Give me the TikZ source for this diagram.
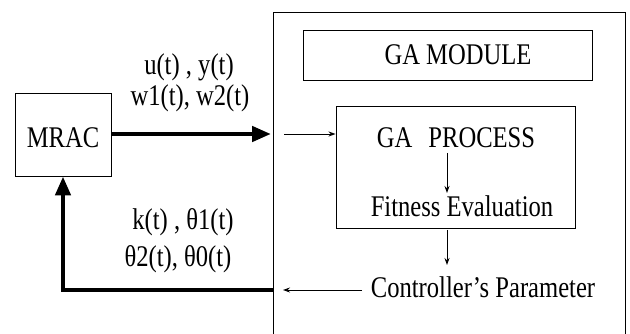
\documentclass[tikz,border=0pt]{standalone}
\usepackage{fontspec}
\setmainfont[FakeStretch=0.82]{Liberation Serif}
\usetikzlibrary{arrows.meta}
\begin{document}
\begin{tikzpicture}[x=1pt,y=-1pt,
  box/.style={draw,line width=0.9pt,inner sep=0pt},
  txt/.style={inner sep=0pt,anchor=base,font=\fontsize{30}{33}\selectfont},
  thick arrow/.style={line width=4.5pt,-{Triangle[length=19pt,width=15pt]}},
  thin arrow/.style={line width=0.9pt,-{Stealth[length=7pt,width=5pt]}}]
\useasboundingbox (0,0) rectangle (630,334);
\clip (0,0) rectangle (630,334);
% outer box
\node[box,minimum width=352pt,minimum height=340pt] (outer) at (449,182) {};
% MRAC
\node[box,minimum width=96pt,minimum height=83pt] (mrac) at (63,134.5) {};
\node[txt] (mract) at (63,148) {MRAC};
% GA module
\node[box,minimum width=289pt,minimum height=50pt] (gam) at (447.5,55) {};
\node[txt] (gamt) at (458,65) {GA MODULE};
% GA process box
\node[box,minimum width=239pt,minimum height=122pt] (gap) at (455.5,167) {};
\node[txt] (gapt) at (456,148) {GA\hspace{16pt}PROCESS};
\node[txt] (fit) at (462,217) {Fitness Evaluation};
\node[txt] (ctrl) at (483,298) {Controller’s Parameter};
% labels
\node[txt] (l1) at (189,75) {u(t) , y(t)};
\node[txt] (l2) at (190,106) {w1(t), w2(t)};
\node[txt] (l3) at (183,230) {k(t) , θ1(t)};
\node[txt] (l4) at (178,267) {θ2(t), θ0(t)};
% coordinates
\coordinate (inA) at (271,134);
\coordinate (inB) at (284,134);
\coordinate (d1a) at (447,153);
\coordinate (d1b) at (447,193);
\coordinate (d2a) at (447,230);
\coordinate (d2b) at (447,265);
\coordinate (fbA) at (362,290);
\coordinate (fbB) at (283,290);
\coordinate (fbC) at (273,290);
\coordinate (fbD) at (63,290);
% connectors
\draw[thick arrow] (mrac.east |- inA) -- (inA);
\draw[thin arrow] (inB) -- (inB -| gap.west);
\draw[thin arrow] (d1a) -- (d1b);
\draw[thin arrow] (d2a) -- (d2b);
\draw[thin arrow] (fbA) -- (fbB);
\draw[thick arrow] (fbC) -- (fbD) -- (mrac.south);
\end{tikzpicture}
\end{document}
